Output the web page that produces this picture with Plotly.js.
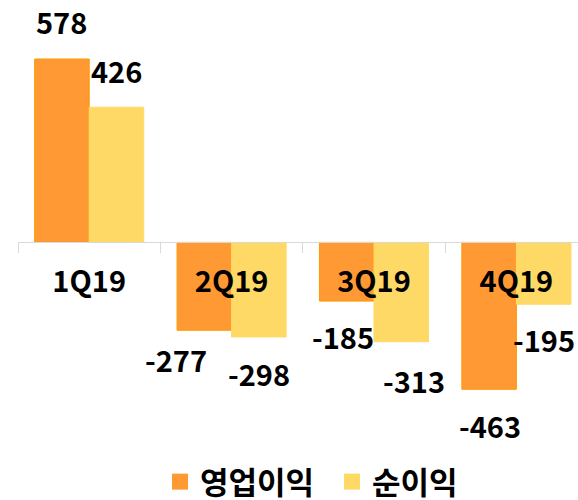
<!DOCTYPE html>
<html>
<head>
<meta charset="utf-8">
<script src="https://cdn.plot.ly/plotly-3.0.1.min.js"></script>
<style>html,body{margin:0;padding:0;background:#fff;}</style>
</head>
<body>
<div id="chart" style="width:578px;height:500px;"></div>
<script>
// ---- data ----
const categories = ['1Q19', '2Q19', '3Q19', '4Q19'];
const seriesNames = ['영업이익', '순이익'];
const opProfit = [578, -277, -185, -463];
const netProfit = [426, -298, -313, -195];

// ---- styles / label placement (pixels) ----
const colors = ['#FF9933', '#FFD966'];
const lineColors = ['#FF9900', '#FFD966'];
const labelGap = [[35, 32, 38, 39], [34, 39, 41.5, 38]];
const labelDx = [[0, -28, -4, 1], [0, 0, 13, 0]];
const labelLift = 3;
const FONT = '"Noto Sans CJK KR", "Noto Sans", sans-serif';

const zeroPx = 242.4, plotTop = 20, plotBottom = 440, pxPerUnit = 0.3173;
const catPx = 142.4;
const halfBar = 27.3;

const allSeries = [opProfit, netProfit];
const traces = allSeries.map((vals, i) => ({
  type: 'bar',
  x: categories,
  y: vals,
  name: seriesNames[i],
  showlegend: false,
  marker: {color: colors[i], line: {color: lineColors[i], width: 1}},
  hoverinfo: 'none'
}));
// legend entries
seriesNames.forEach((n, i) => traces.push({
  type: 'scatter', mode: 'markers', x: [null], y: [null], name: n,
  marker: {symbol: 'square', size: 19, color: colors[i]}
}));

const annotations = [];
allSeries.forEach((vals, s) => {
  vals.forEach((v, k) => {
    const sign = v >= 0 ? 1 : -1;
    annotations.push({
      x: categories[k], y: v, xref: 'x', yref: 'y',
      text: String(v), showarrow: false,
      xanchor: 'center', yanchor: 'middle',
      xshift: (s === 0 ? -halfBar : halfBar) + labelDx[s][k],
      yshift: sign * labelGap[s][k] + labelLift,
      font: {family: FONT, size: 29, color: '#000', weight: 'bold'}
    });
  });
});

const layout = {
  width: 578, height: 500,
  margin: {l: 18, r: 0, t: plotTop, b: 500 - plotBottom, autoexpand: false},
  paper_bgcolor: '#fff', plot_bgcolor: 'rgba(0,0,0,0)',
  barmode: 'group', bargap: 0.234, bargroupgap: 0,
  xaxis: {
    type: 'category',
    range: [-0.5, -0.5 + 560 / catPx],
    anchor: 'free',
    position: (plotBottom - zeroPx) / (plotBottom - plotTop),
    showline: true, linecolor: '#D9D9D9', linewidth: 1,
    ticks: 'outside', tickson: 'boundaries', ticklen: 10, tickcolor: '#D9D9D9', tickwidth: 1,
    ticklabelstandoff: 14,
    tickfont: {family: FONT, size: 29, color: '#000', weight: 'bold'},
    showgrid: false, zeroline: false, fixedrange: true,
    automargin: false,
    layer: 'above traces'
  },
  yaxis: {
    visible: false,
    range: [-(plotBottom - zeroPx) / pxPerUnit, (zeroPx - plotTop) / pxPerUnit],
    showgrid: false, zeroline: false, fixedrange: true
  },
  showlegend: true,
  legend: {
    orientation: 'h', x: 0.2536, xanchor: 'left', y: -0.1, yanchor: 'middle',
    entrywidth: 127, entrywidthmode: 'pixels',
    font: {family: FONT, size: 31, color: '#000', weight: 'bold'},
    itemsizing: 'trace', tracegroupgap: 0
  },
  annotations: annotations
};

Plotly.newPlot('chart', traces, layout, {displayModeBar: false, staticPlot: true});
</script>
</body>
</html>
